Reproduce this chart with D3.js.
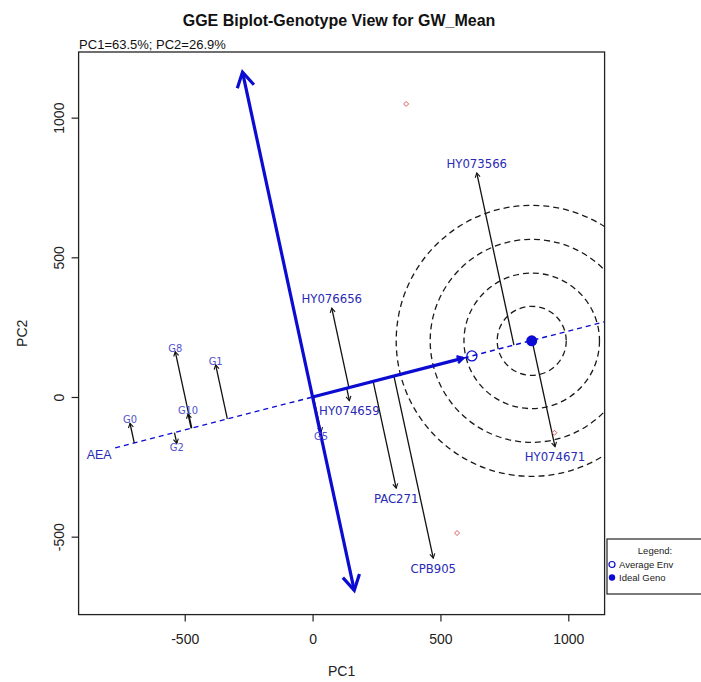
<!DOCTYPE html>
<html>
<head>
<meta charset="utf-8">
<script src="https://cdn.jsdelivr.net/npm/d3@7"></script>
<style>
  html, body { margin: 0; padding: 0; background: #fff; }
  svg { display: block; }
</style>
</head>
<body>
<script>
// Genotype scores on the first two principal components
const genotypes = ["HY073566", "HY076656", "HY074659", "HY074671", "PAC271", "CPB905",
                   "G0", "G8", "G10", "G1", "G2", "G5"];
const genoPC1 = [642, 75, 144, 948, 327, 472, -714, -537, -487, -379, -531, 33];
const genoPC2 = [802, 318, -13, -178, -326, -577, -94, 162, -61, 115, -166, -125];

// Environment markers (small red points)
const envPC1 = [366, 565, 946];
const envPC2 = [1049, -487, -128];

// Average environment, ideal genotype and the AEC ordinate end points
const averageEnv = [623, 147];
const idealGeno = [857, 201];
const ordinateTop = [-274, 1163];
const ordinateBottom = [163, -692];
const aeaStart = [-772, -182];
const ringRadii = [135, 265, 397, 530];

const xTicks = [-500, 0, 500, 1000];
const yTicks = [-500, 0, 500, 1000];
const xDomain = [-915, 1142];
const yDomain = [-779, 1235];

const W = 701, H = 682;
const plot = { left: 78.6, right: 604.6, top: 52, bottom: 614.6 };
const blue = "#0b0bd2";
const labelBlue = "#2a2ab6";
const plainFormat = d => String(d).replace("\u2212", "-");

const svg = d3.select("body").append("svg").attr("width", W).attr("height", H);

const x = d3.scaleLinear().domain(xDomain).range([plot.left, plot.right]);
const y = d3.scaleLinear().domain(yDomain).range([plot.bottom, plot.top]);

svg.append("defs").append("clipPath").attr("id", "plotClip")
  .append("rect")
  .attr("x", plot.left).attr("y", plot.top)
  .attr("width", plot.right - plot.left).attr("height", plot.bottom - plot.top);

// Title and variance explained
svg.append("text")
  .attr("x", 339).attr("y", 26)
  .attr("text-anchor", "middle")
  .attr("font-family", "Liberation Sans, Arial, sans-serif")
  .attr("font-weight", "bold").attr("font-size", 16)
  .attr("fill", "#111")
  .text("GGE Biplot-Genotype View for GW_Mean");

svg.append("text")
  .attr("x", plot.left + 0.5).attr("y", 49)
  .attr("font-family", "Liberation Sans, Arial, sans-serif")
  .attr("font-size", 13).attr("fill", "#111")
  .text("PC1=63.5%; PC2=26.9%");

// Axes
const xAxis = d3.axisBottom(x).tickValues(xTicks).tickFormat(plainFormat)
  .tickSizeInner(7).tickSizeOuter(0).tickPadding(12);
const yAxis = d3.axisLeft(y).tickValues(yTicks).tickFormat(plainFormat)
  .tickSizeInner(7).tickSizeOuter(0).tickPadding(0);

const gx = svg.append("g").attr("transform", `translate(0,${plot.bottom})`).call(xAxis);
gx.select(".domain").remove();
gx.selectAll("line").attr("stroke", "#222").attr("stroke-width", 1.2);
gx.selectAll("text")
  .attr("font-family", "Liberation Sans, Arial, sans-serif")
  .attr("font-size", 14).attr("fill", "#222");

const gy = svg.append("g").attr("transform", `translate(${plot.left},0)`).call(yAxis);
gy.select(".domain").remove();
gy.selectAll("line").attr("stroke", "#222").attr("stroke-width", 1.2);
gy.selectAll("text")
  .attr("font-family", "Liberation Sans, Arial, sans-serif")
  .attr("font-size", 14).attr("fill", "#222")
  .attr("text-anchor", "middle")
  .attr("dy", null)
  .attr("x", null)
  .attr("transform", "translate(-15,0) rotate(-90)");

svg.append("text")
  .attr("x", (plot.left + plot.right) / 2).attr("y", 676)
  .attr("text-anchor", "middle")
  .attr("font-family", "Liberation Sans, Arial, sans-serif")
  .attr("font-size", 14).attr("fill", "#222")
  .text("PC1");

svg.append("text")
  .attr("transform", `translate(27,${(plot.top + plot.bottom) / 2}) rotate(-90)`)
  .attr("text-anchor", "middle")
  .attr("font-family", "Liberation Sans, Arial, sans-serif")
  .attr("font-size", 14).attr("fill", "#222")
  .text("PC2");

// Plot frame
svg.append("rect")
  .attr("x", plot.left).attr("y", plot.top)
  .attr("width", plot.right - plot.left).attr("height", plot.bottom - plot.top)
  .attr("fill", "none").attr("stroke", "#222").attr("stroke-width", 1.3);

const g = svg.append("g").attr("clip-path", "url(#plotClip)");

// Helper: open arrowhead at (x2,y2) pointing away from (x1,y1), in pixels
function arrowHead(sel, x1, y1, x2, y2, len, color, width) {
  const ang = Math.atan2(y2 - y1, x2 - x1);
  const spread = Math.PI / 6;
  const p1 = [x2 - len * Math.cos(ang - spread), y2 - len * Math.sin(ang - spread)];
  const p2 = [x2 - len * Math.cos(ang + spread), y2 - len * Math.sin(ang + spread)];
  sel.append("path")
    .attr("d", `M${p1[0]},${p1[1]}L${x2},${y2}L${p2[0]},${p2[1]}`)
    .attr("fill", "none").attr("stroke", color).attr("stroke-width", width)
    .attr("stroke-linejoin", "miter");
}

// Concentric rings around the ideal genotype (radius in PC1 units)
const pxPerUnit = x(1) - x(0);
g.selectAll("circle.ring").data(ringRadii).join("circle")
  .attr("class", "ring")
  .attr("cx", x(idealGeno[0])).attr("cy", y(idealGeno[1]))
  .attr("r", d => d * pxPerUnit)
  .attr("fill", "none").attr("stroke", "#1a1a1a")
  .attr("stroke-width", 1.3).attr("stroke-dasharray", "6,4");

// Average environment axis (dashed line through the origin)
const slope = averageEnv[1] / averageEnv[0];
g.append("line")
  .attr("x1", x(aeaStart[0])).attr("y1", y(aeaStart[0] * slope))
  .attr("x2", x(xDomain[1])).attr("y2", y(xDomain[1] * slope))
  .attr("stroke", blue).attr("stroke-width", 1.4).attr("stroke-dasharray", "5,4");

// Projection of each genotype onto the average environment axis
const len = Math.hypot(averageEnv[0], averageEnv[1]);
const u = [averageEnv[0] / len, averageEnv[1] / len];
const geno = genotypes.map((name, i) => {
  const p = [genoPC1[i], genoPC2[i]];
  const t = p[0] * u[0] + p[1] * u[1];
  const foot = [t * u[0], t * u[1]];
  const above = p[1] > foot[1];
  return { name, p, foot, above };
});

geno.forEach(d => {
  const x1 = x(d.foot[0]), y1 = y(d.foot[1]);
  const x2 = x(d.p[0]), y2 = y(d.p[1]);
  g.append("line")
    .attr("x1", x1).attr("y1", y1).attr("x2", x2).attr("y2", y2)
    .attr("stroke", "#111").attr("stroke-width", 1.3);
  arrowHead(g, x1, y1, x2, y2, 5, "#111", 1.1);
});

// Thick AEC ordinate with arrowheads at both ends
const ox = x(0), oy = y(0);
[ordinateTop, ordinateBottom].forEach(e => {
  g.append("line")
    .attr("x1", ox).attr("y1", oy).attr("x2", x(e[0])).attr("y2", y(e[1]))
    .attr("stroke", blue).attr("stroke-width", 3.2);
  arrowHead(g, ox, oy, x(e[0]), y(e[1]), 17, blue, 3.2);
});

// Thick AEC abscissa from origin towards the average environment
{
  const ax = x(averageEnv[0]), ay = y(averageEnv[1]);
  const d = Math.hypot(ax - ox, ay - oy);
  const ex = ax - (ax - ox) / d * 9, ey = ay - (ay - oy) / d * 9;
  g.append("line")
    .attr("x1", ox).attr("y1", oy).attr("x2", ex).attr("y2", ey)
    .attr("stroke", blue).attr("stroke-width", 3.2);
  arrowHead(g, ox, oy, ex, ey, 7, blue, 2.5);
}

// Average environment and ideal genotype markers
g.append("circle")
  .attr("cx", x(averageEnv[0])).attr("cy", y(averageEnv[1])).attr("r", 5)
  .attr("fill", "none").attr("stroke", blue).attr("stroke-width", 1.3);
g.append("circle")
  .attr("cx", x(idealGeno[0])).attr("cy", y(idealGeno[1])).attr("r", 5.5)
  .attr("fill", blue);

// Environment points
envPC1.forEach((v, i) => {
  const cx = x(v), cy = y(envPC2[i]);
  g.append("path")
    .attr("d", `M${cx - 2.5},${cy}L${cx},${cy - 2.5}L${cx + 2.5},${cy}L${cx},${cy + 2.5}Z`)
    .attr("fill", "none").attr("stroke", "#d05050").attr("stroke-width", 0.9);
});

// Genotype labels
geno.forEach(d => {
  const long = d.name.length > 3;
  const off = long ? 10 : 4;
  g.append("text")
    .attr("x", x(d.p[0]))
    .attr("y", y(d.p[1]) + (d.above ? -off : off))
    .attr("dy", "0.35em")
    .attr("text-anchor", "middle")
    .attr("font-family", "DejaVu Sans Condensed, DejaVu Sans, sans-serif")
    .attr("font-stretch", "condensed")
    .attr("font-size", long ? 13 : 11)
    .attr("fill", long ? labelBlue : "#5252cc")
    .text(d.name);
});

// Average environment axis label
g.append("text")
  .attr("x", x(aeaStart[0]) - 16).attr("y", y(aeaStart[0] * slope) + 7)
  .attr("dy", "0.35em")
  .attr("text-anchor", "middle")
  .attr("font-family", "Liberation Sans, Arial, sans-serif")
  .attr("font-size", 12.5).attr("fill", labelBlue)
  .text("AEA");

// Legend (runs past the right edge of the page)
const lg = svg.append("g").attr("transform", "translate(607,539)");
lg.append("rect").attr("width", 97).attr("height", 55)
  .attr("fill", "#fff").attr("stroke", "#222").attr("stroke-width", 1.2);
lg.append("text").attr("x", 48).attr("y", 15)
  .attr("text-anchor", "middle")
  .attr("font-family", "Liberation Sans, Arial, sans-serif")
  .attr("font-size", 9.5).attr("fill", "#222").text("Legend:");
lg.append("circle").attr("cx", 5).attr("cy", 25.5).attr("r", 3)
  .attr("fill", "none").attr("stroke", blue).attr("stroke-width", 1.2);
lg.append("text").attr("x", 12).attr("y", 29)
  .attr("font-family", "Liberation Sans, Arial, sans-serif")
  .attr("font-size", 9.5).attr("fill", "#222").text("Average Env");
lg.append("circle").attr("cx", 5).attr("cy", 38.5).attr("r", 3.2)
  .attr("fill", blue);
lg.append("text").attr("x", 12).attr("y", 42)
  .attr("font-family", "Liberation Sans, Arial, sans-serif")
  .attr("font-size", 9.5).attr("fill", "#222").text("Ideal Geno");
</script>
</body>
</html>
